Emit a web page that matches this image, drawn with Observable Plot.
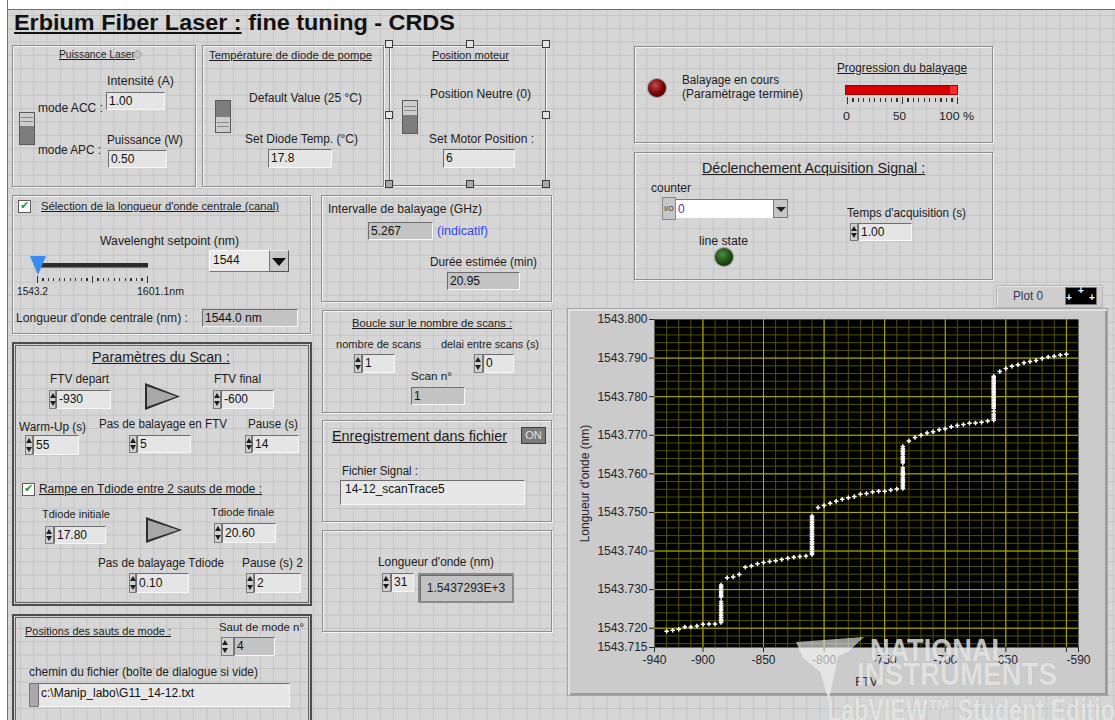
<!DOCTYPE html>
<html><head><meta charset="utf-8">
<script src="https://cdn.jsdelivr.net/npm/d3@7"></script>
<script src="https://cdn.jsdelivr.net/npm/@observablehq/plot@0.6"></script>
<style>
*{box-sizing:border-box}
body{margin:0;background:#fff}
#panel{position:relative;width:1115px;height:720px;overflow:hidden;font-family:"Liberation Sans",Arial,sans-serif;color:#1d1d1d;
 background-color:#d6d6d6;
 background-image:linear-gradient(to bottom,#c4c4c4 1px,transparent 1px),linear-gradient(to right,#c4c4c4 1px,transparent 1px);
 background-size:13.333px 13.333px;background-position:6.67px 1.6px;}
#panel div{position:absolute}
.t{white-space:nowrap;transform-origin:0 50%}
.u{text-decoration:underline}
.box{border:1px solid #8e8e8e;box-shadow:inset 1px 1px 0 #f3f3f3,1px 1px 0 #f3f3f3}
.box2{border:2px solid #4d4d4d;box-shadow:inset 0 0 0 1px #cfcfcf,inset 0 0 0 2px #666}
.fld{background:#e5e5e5;border-top:1px solid #6e6e6e;border-left:1px solid #6e6e6e;border-right:1px solid #f7f7f7;border-bottom:1px solid #f7f7f7;font-size:12px;padding-left:2px;white-space:nowrap;overflow:hidden;color:#111}
.ind{background:#c3c3c3}
.arr{background:#d0d0d0;border:1px solid #7c7c7c}
.arr::before,.arr::after{content:"";position:absolute;left:0;border-left:3px solid transparent;border-right:3px solid transparent}
.arr::before{top:2px;border-bottom:5px solid #1e1e1e}
.arr::after{bottom:2px;border-top:5px solid #1e1e1e}
.wm{color:rgba(246,246,246,0.74);font-weight:bold;white-space:nowrap;transform-origin:0 50%;text-shadow:0 0 1px rgba(110,110,110,0.35);pointer-events:none}
</style></head>
<body>
<div id="panel"></div>
<script>
// ---------- data ----------
const ftvRamp = [-930,-925,-920,-915,-910,-905,-900,-895,-890,
 -880,-875,-870,-865,-860,-855,-850,-845,-840,-835,-830,-825,-820,-815,
 -805,-800,-795,-790,-785,-780,-775,-770,-765,-760,-755,-750,-745,-740,
 -730,-725,-720,-715,-710,-705,-700,-695,-690,-685,-680,-675,-670,-665,
 -655,-650,-645,-640,-635,-630,-625,-620,-615,-610,-605,-600];
const wlRamp = [1543.7192,1543.7195,1543.7197,1543.7203,1543.7203,1543.7206,1543.7210,1543.7211,1543.7211,
 1543.7331,1543.7333,1543.7339,1543.7358,1543.7361,1543.7367,1543.7370,1543.7373,1543.7375,1543.7378,1543.7381,1543.7384,1543.7386,1543.7387,
 1543.7513,1543.7518,1543.7524,1543.7529,1543.7534,1543.7538,1543.7541,1543.7547,1543.7549,1543.7553,1543.7555,1543.7555,1543.7558,1543.7561,
 1543.7685,1543.7694,1543.7700,1543.7706,1543.7709,1543.7714,1543.7717,1543.7722,1543.7725,1543.7728,1543.7731,1543.7732,1543.7734,1543.7737,
 1543.7865,1543.7873,1543.7879,1543.7883,1543.7888,1543.7891,1543.7894,1543.7899,1543.7903,1543.7905,1543.7908,1543.7910];
const hopFTV = [-885, -810, -735, -660];
const hop1WL = [1543.7215,1543.7219,1543.7223,1543.7228,1543.7232,1543.7237,1543.7241,1543.7246,1543.7250,1543.7255,1543.7259,1543.7264,1543.7269,1543.7281,1543.7284,1543.7288,1543.7292,1543.7296,1543.7300,1543.7304,1543.7308,1543.7312];
const hop2WL = [1543.7391,1543.7395,1543.7399,1543.7404,1543.7408,1543.7412,1543.7417,1543.7421,1543.7425,1543.7430,1543.7434,1543.7438,1543.7443,1543.7447,1543.7451,1543.7456,1543.7460,1543.7464,1543.7469,1543.7473,1543.7477,1543.7482,1543.7486,1543.7491];
const hop3WL = [1543.7562,1543.7566,1543.7570,1543.7574,1543.7578,1543.7582,1543.7586,1543.7590,1543.7595,1543.7599,1543.7603,1543.7607,1543.7611,1543.7616,1543.7629,1543.7633,1543.7637,1543.7641,1543.7645,1543.7650,1543.7654,1543.7658,1543.7662,1543.7666,1543.7671];
const hop4WL = [1543.7739,1543.7744,1543.7750,1543.7755,1543.7762,1543.7770,1543.7774,1543.7778,1543.7782,1543.7786,1543.7790,1543.7794,1543.7798,1543.7802,1543.7806,1543.7810,1543.7814,1543.7818,1543.7822,1543.7826,1543.7830,1543.7834,1543.7838,1543.7842,1543.7846,1543.7850,1543.7853];
const xTicks = [-940,-900,-850,-800,-750,-700,-650,-600,-590];
const yTicks = [1543.715,1543.72,1543.73,1543.74,1543.75,1543.76,1543.77,1543.78,1543.79,1543.80];
const xMajor = [-900,-850,-800,-750,-700,-650,-600];
const yMajor = [1543.72,1543.73,1543.74,1543.75,1543.76,1543.77,1543.78,1543.79];
const xMinor = d3.range(-930, -595, 10);
const yMinor = d3.range(0, 43).map(i => 1543.716 + i * 0.002);

// ---------- helpers ----------
const panel = document.getElementById("panel");
const fits = [];
function add(cls, x, y, w, h, text, css) {
  const d = document.createElement("div");
  if (cls) d.className = cls;
  d.style.left = x + "px"; d.style.top = y + "px";
  if (w != null) d.style.width = w + "px";
  if (h != null) d.style.height = h + "px";
  if (text != null) d.textContent = text;
  const parent = css && css._parent ? css._parent : panel;
  if (css) { const c = Object.assign({}, css); delete c._parent; delete c.u; Object.assign(d.style, c); }
  parent.appendChild(d);
  return d;
}
function label(x1, x2, yc, text, size, extra) {
  size = size || 12;
  const css = Object.assign({fontSize: size + "px", lineHeight: Math.round(size * 1.2) + "px"}, extra || {});
  const d = add("t" + (extra && extra.u ? " u" : ""), x1, yc - Math.round(size * 0.6), null, null, text, css);
  fits.push([d, x2 - x1]);
  return d;
}
const U = {u: true};
function num(ax, x1, x2, y1, y2, val, ind) {
  if (ax != null) add("arr", ax, y1, x1 - ax, y2 - y1);
  const f = add("fld" + (ind ? " ind" : ""), x1, y1, x2 - x1, y2 - y1, val);
  f.style.lineHeight = (y2 - y1 - 2) + "px";
  return f;
}
function toggle(x, y, w, h, lightTop, frac) {
  const p = Math.round(frac * 100);
  const bg = lightTop
    ? `linear-gradient(#cdcdcd 0 ${p}%, #7d7d7d ${p}% 100%)`
    : `linear-gradient(#7d7d7d 0 ${p}%, #cdcdcd ${p}% 100%)`;
  const d = add("", x, y, w, h, null, {background: bg, border: "1px solid #5a5a5a"});
  const gy = lightTop ? h * frac * 0.3 : h * frac + (h - h * frac) * 0.3;
  add("", 1, gy, w - 4, 1, null, {background: "#888", _parent: d});
  add("", 1, gy + 4, w - 4, 1, null, {background: "#888", _parent: d});
}
function tri(x, y, w, h) {
  add("", x, y, w, h, null, {background: "#2e2e2e", clipPath: "polygon(0 0,100% 50%,0 100%)"});
  add("", x + 1.5, y + 3, w - 5, h - 6, null, {background: "#a8a8a8", clipPath: "polygon(0 0,100% 50%,0 100%)"});
}
function led(cx, cy, r, c1, c2, c3) {
  add("", cx - r - 1, cy - r - 1, 2 * r + 2, 2 * r + 2, null, {borderRadius: "50%", background: "#9a9a9a"});
  add("", cx - r, cy - r, 2 * r, 2 * r, null, {borderRadius: "50%", background: `radial-gradient(circle at 40% 35%, ${c1} 0, ${c2} 55%, ${c3} 100%)`});
}
function check(x, y) {
  const b = add("", x, y, 13, 13, null, {background: "#fff", border: "1px solid #5d5d5d"});
  add("", 1, -2, 11, 13, "✔", {_parent: b, color: "#2e9a2e", fontFamily: "DejaVu Sans", fontSize: "11px", lineHeight: "13px"});
}

// ---------- panel frame ----------
add("", 0, 0, 1115, 10, null, {background: "#fff", borderBottom: "1px solid #6e6e6e"});
add("", 0, 0, 8, 720, null, {background: "#fff", borderRight: "1px solid #6e6e6e"});

// title
const title = add("t", 14, 10, null, null, null, {fontSize: "22px", lineHeight: "26px", fontWeight: "bold", color: "#111"});
title.innerHTML = '<span class="u">Erbium Fiber Laser :</span> fine tuning - CRDS';
fits.push([title, 441]);

// ---------- decoration boxes ----------
add("box", 12, 45, 184, 142);
add("box", 202, 45, 182, 142);
add("box", 389, 45, 157, 141, null, {borderColor: "#777"});
add("box", 12, 195, 299, 139);
add("box", 321, 195, 231, 107);
add("box2", 12, 342, 300, 264);
add("box", 322, 310, 230, 103);
add("box", 322, 420, 230, 102);
add("box", 322, 530, 230, 102);
add("box2", 12, 614, 300, 130);
add("box", 634, 46, 359, 97);
add("box", 634, 152, 359, 128);

// selection handles around "Position moteur"
[[389,44,1],[470,44,1],[546,44,1],[389,115,1],[546,115,1],[389,184,0],[470,184,0],[546,184,0]].forEach(([cx,cy,l]) =>
  add("", cx - 4, cy - 4, 8, 8, null, {background: l ? "#e4e4e4" : "#a9a9a9", border: "1px solid #3a3a3a"}));

// ---------- box 1 : Puissance Laser ----------
label(59, 135, 54, "Puissance Laser", 10.5, U);
add("", 134, 51, 7, 7, null, {background: "#c4c4c4", border: "1px solid #aaa", transform: "rotate(45deg)"});
label(107, 174, 81, "Intensité (A)");
label(38, 103, 108, "mode ACC :");
num(null, 106, 165, 92, 110, "1.00");
toggle(19, 112, 16, 33, true, 0.42);
label(107, 183, 140, "Puissance (W)");
label(38, 101, 150, "mode APC :");
num(null, 108, 167, 150, 168, "0.50");

// ---------- box 2 ----------
label(209, 372, 55, "Température de diode de pompe", 10.5, U);
toggle(215, 100, 16, 33, false, 0.5);
label(249, 362, 98, "Default Value (25 °C)");
label(245, 358, 139, "Set Diode Temp. (°C)");
num(null, 268, 332, 149, 168, "17.8");

// ---------- box 3 ----------
label(432, 509, 55, "Position moteur", 10.5, U);
toggle(402, 100, 16, 34, true, 0.45);
label(430, 531, 94, "Position Neutre (0)");
label(429, 534, 139, "Set Motor Position :");
num(null, 443, 515, 149, 168, "6");

// ---------- box 4 ----------
check(18, 200);
label(41, 279, 206, "Sélection de la longueur d'onde centrale (canal)", 10.5, U);
label(100, 239, 241, "Wavelenght setpoint (nm)");
add("", 36, 263, 112, 5, null, {background: "#2c2c2c", borderBottom: "1px solid #777"});
add("", 37, 278, 111, 3, null, {background: "repeating-linear-gradient(to right,#333 0 1px,transparent 1px 5.5px)"});
[37, 92, 147].forEach(x => add("", x, 276, 1, 7, null, {background: "#333"}));
add("", 30, 256, 0, 0, null, {borderLeft: "8px solid transparent", borderRight: "8px solid transparent", borderTop: "19px solid #3a8cf0"});
label(17, 48, 291, "1543.2", 10.5);
label(137, 184, 291, "1601.1nm", 10.5);
add("fld", 209, 250, 61, 22, "1544", {background: "#e9e9e9", borderTop: "1px solid #fff", borderLeft: "1px solid #fff", borderRight: "1px solid #777", borderBottom: "1px solid #777", lineHeight: "18px", paddingLeft: "3px"});
const btn = add("", 270, 250, 19, 22, null, {background: "#c7c7c7", borderRight: "1px solid #555", borderBottom: "1px solid #555", borderTop: "1px solid #eee"});
add("", 2, 7, 0, 0, null, {_parent: btn, borderLeft: "7px solid transparent", borderRight: "7px solid transparent", borderTop: "8px solid #111"});
label(16, 188, 318, "Longueur d'onde centrale (nm) :");
num(null, 202, 298, 309, 327, "1544.0 nm", true);

// ---------- box 5 ----------
label(328, 482, 209, "Intervalle de balayage (GHz)");
num(null, 368, 433, 222, 240, "5.267", true);
label(437, 488, 231, "(indicatif)", 12, {color: "#3346f2"});
label(430, 537, 262, "Durée estimée (min)");
num(null, 447, 520, 272, 290, "20.95", true);

// ---------- box 6 : Paramètres du Scan ----------
label(92, 230, 357, "Paramètres du Scan :", 15, U);
label(50, 109, 379, "FTV depart");
num(49, 56, 111, 390, 409, "-930");
tri(145, 383, 35, 27);
label(214, 261, 379, "FTV final");
num(213, 221, 274, 390, 409, "-600");
label(19, 86, 427, "Warm-Up (s)");
label(99, 227, 424, "Pas de balayage en FTV");
label(248, 298, 424, "Pause (s)");
num(25, 33, 79, 435, 455, "55");
num(129, 137, 191, 435, 453, "5");
num(245, 252, 299, 435, 453, "14");
check(22, 483);
label(39, 262, 489, "Rampe en Tdiode entre 2 sauts de mode :", 12, U);
label(42, 110, 514, "Tdiode initiale", 11.5);
num(45, 54, 106, 526, 544, "17.80");
tri(146, 517, 36, 26);
label(211, 274, 512, "Tdiode finale", 11.5);
num(214, 222, 276, 523, 543, "20.60");
label(98, 224, 563, "Pas de balayage Tdiode");
label(242, 303, 563, "Pause (s) 2");
num(129, 136, 189, 573, 593, "0.10");
num(246, 254, 301, 573, 593, "2");

// ---------- box 7 ----------
label(352, 512, 323, "Boucle sur le nombre de scans :", 10.5, U);
label(336, 421, 345, "nombre de scans", 11);
label(441, 539, 345, "delai entre scans (s)", 11);
num(354, 362, 395, 354, 373, "1");
num(474, 483, 514, 354, 373, "0");
label(411, 452, 377, "Scan n°", 11);
num(null, 411, 465, 387, 405, "1", true);

// ---------- box 8 ----------
label(332, 507, 437, "Enregistrement dans fichier", 14.5, U);
add("", 521, 427, 25, 17, "ON", {background: "#7b7b7b", border: "1px solid #3e3e3e", color: "#e2e2e2", fontSize: "11px", lineHeight: "15px", textAlign: "center"});
label(342, 418, 471, "Fichier Signal :");
add("fld", 340, 480, 185, 25, "14-12_scanTrace5", {lineHeight: "16px", paddingLeft: "4px", background: "#e7e7e7"});

// ---------- box 9 ----------
label(378, 494, 562, "Longueur d'onde (nm)");
num(382, 391, 414, 573, 592, "31");
add("", 418, 573, 96, 30, "1.5437293E+3", {background: "#c2c2c2", border: "2px solid #8a8a8a", boxShadow: "inset 1px 1px 0 #6a6a6a", fontSize: "12px", lineHeight: "26px", textAlign: "center", color: "#222"});

// ---------- box 10 ----------
label(25, 171, 631, "Positions des sauts de mode :", 10.5, U);
label(219, 304, 628, "Saut de mode n°", 11);
num(221, 234, 275, 637, 656, "4", true);
label(29, 258, 672, "chemin du fichier (boîte de dialogue si vide)");
add("", 29, 683, 10, 24, null, {background: "#a9a9a9", border: "1px solid #777"});
add("fld", 38, 683, 252, 24, "c:\\Manip_labo\\G11_14-12.txt", {lineHeight: "18px", background: "#e7e7e7"});

// ---------- box 11 ----------
led(657, 88, 9, "#c24a4a", "#720000", "#3a0000");
label(682, 779, 81, "Balayage en cours", 12.5);
label(682, 803, 95, "(Paramètrage terminé)", 12.5);
label(837, 967, 68, "Progression du balayage", 12, U);
add("", 845, 85, 113, 10, null, {background: "linear-gradient(to right,#d40000 0 94%,#ff2a2a 94%)", border: "1px solid #9a0000"});
add("", 847, 98, 111, 4, null, {background: "repeating-linear-gradient(to right,#333 0 1px,transparent 1px 5.5px)"});
[847, 902, 957].forEach(x => add("", x, 97, 1, 7, null, {background: "#333"}));
label(843, 850, 116, "0", 11.5);
label(893, 906, 116, "50", 11.5);
label(939, 974, 116, "100 %", 11.5);

// ---------- box 12 ----------
label(702, 925, 169, "Déclenchement Acquisition Signal :", 14.5, U);
label(651, 691, 188, "counter");
add("", 662, 197, 14, 23, "I/O", {background: "#c6c6c6", border: "1px solid #888", fontSize: "7px", lineHeight: "21px", textAlign: "center", color: "#222"});
add("", 676, 199, 97, 19, "0", {background: "#fff", borderTop: "1px solid #777", fontSize: "12px", lineHeight: "18px", paddingLeft: "2px", color: "#7a1fa0"});
const b2 = add("", 773, 199, 15, 19, null, {background: "#c6c6c6", border: "1px solid #777"});
add("", 2, 7, 0, 0, null, {_parent: b2, borderLeft: "5px solid transparent", borderRight: "5px solid transparent", borderTop: "5px solid #222"});
label(699, 748, 241, "line state");
led(724, 257, 9, "#4f8c3e", "#1e4a12", "#0c2406");
label(847, 966, 213, "Temps d'acquisition (s)");
num(850, 858, 912, 223, 241, "1.00");

// ---------- graph ----------
add("", 567, 308, 541, 388, null, {background: "#cbcbcb", border: "1px solid #a4a4a4", boxShadow: "inset 2px 2px 0 #e0e0e0, inset -2px -2px 0 #9b9b9b"});
add("", 996, 285, 107, 23, null, {background: "#cecece", border: "1px solid #b5b5b5", boxShadow: "inset 1px 1px 0 #e6e6e6"});
label(1013, 1043, 296, "Plot 0", 12, {color: "#34345e"});
const sw = add("", 1065, 287, 32, 18, null, {background: "#000", border: "1px solid #777"});
[[12, -2], [0, 5], [23, 5]].forEach(([x, y]) => add("", x, y, 8, 10, "+", {_parent: sw, color: "#fff", fontSize: "10px", fontWeight: "bold", lineHeight: "10px"}));

const pts = ftvRamp.map((f, i) => ({ftv: f, wl: wlRamp[i]}));
[hop1WL, hop2WL, hop3WL, hop4WL].forEach((arr, k) => arr.forEach(w => pts.push({ftv: hopFTV[k], wl: w})));

const chart = Plot.plot({
  width: 541, height: 388,
  marginLeft: 87, marginRight: 30, marginTop: 11, marginBottom: 49,
  style: {background: "transparent", fontFamily: "Liberation Sans, Arial, sans-serif", fontSize: "12px", color: "#24242e", overflow: "visible"},
  x: {domain: [-940, -590]},
  y: {domain: [1543.715, 1543.800]},
  marks: [
    Plot.frame({fill: "#000", stroke: null}),
    Plot.ruleX(xMinor, {stroke: "#525200", strokeWidth: 1}),
    Plot.ruleY(yMinor, {stroke: "#525200", strokeWidth: 1}),
    Plot.ruleX(xMajor, {stroke: "#b0b000", strokeWidth: 1}),
    Plot.ruleY(yMajor, {stroke: "#b0b000", strokeWidth: 1}),
    Plot.dot(pts, {x: "ftv", y: "wl", symbol: "cross", r: 1.9, fill: "#fff", stroke: null}),
    Plot.axisX({ticks: xTicks, tickFormat: d => d === -600 ? "" : String(d), tickSize: 5, tickPadding: 3, label: "FTV", labelAnchor: "center", labelOffset: 38, labelArrow: "none"}),
    Plot.axisY({ticks: yTicks, tickFormat: d3.format(".3f"), tickSize: 5, tickPadding: 2, label: "Longueur d'onde (nm)", labelAnchor: "center", labelOffset: 74, labelArrow: "none"})
  ]
});
const holder = add("", 567, 308, 541, 388);
holder.appendChild(chart);

// ---------- watermark ----------
add("", 796, 637, 68, 64, null, {background: "rgba(246,246,246,0.62)", clipPath: "polygon(0 8%,100% 0,78% 22%,62% 30%,48% 100%,36% 55%,10% 32%)", pointerEvents: "none"});
const w1 = add("wm", 870, 636, null, null, "NATIONAL", {fontSize: "31px", lineHeight: "30px"}); fits.push([w1, 138]);
const w2 = add("wm", 857, 660, null, null, "INSTRUMENTS", {fontSize: "31px", lineHeight: "30px"}); fits.push([w2, 200]);
const w3 = add("wm", 827, 695, null, null, "LabVIEW™ Student Edition", {fontSize: "31px", lineHeight: "32px"}); fits.push([w3, 300]);

// ---------- fit label widths ----------
fits.forEach(([d, target]) => {
  const w = d.getBoundingClientRect().width;
  if (w > 0) {
    const s = Math.max(0.75, Math.min(1.3, target / w));
    d.style.transform = `scaleX(${s.toFixed(3)})`;
  }
});
</script>
</body></html>
